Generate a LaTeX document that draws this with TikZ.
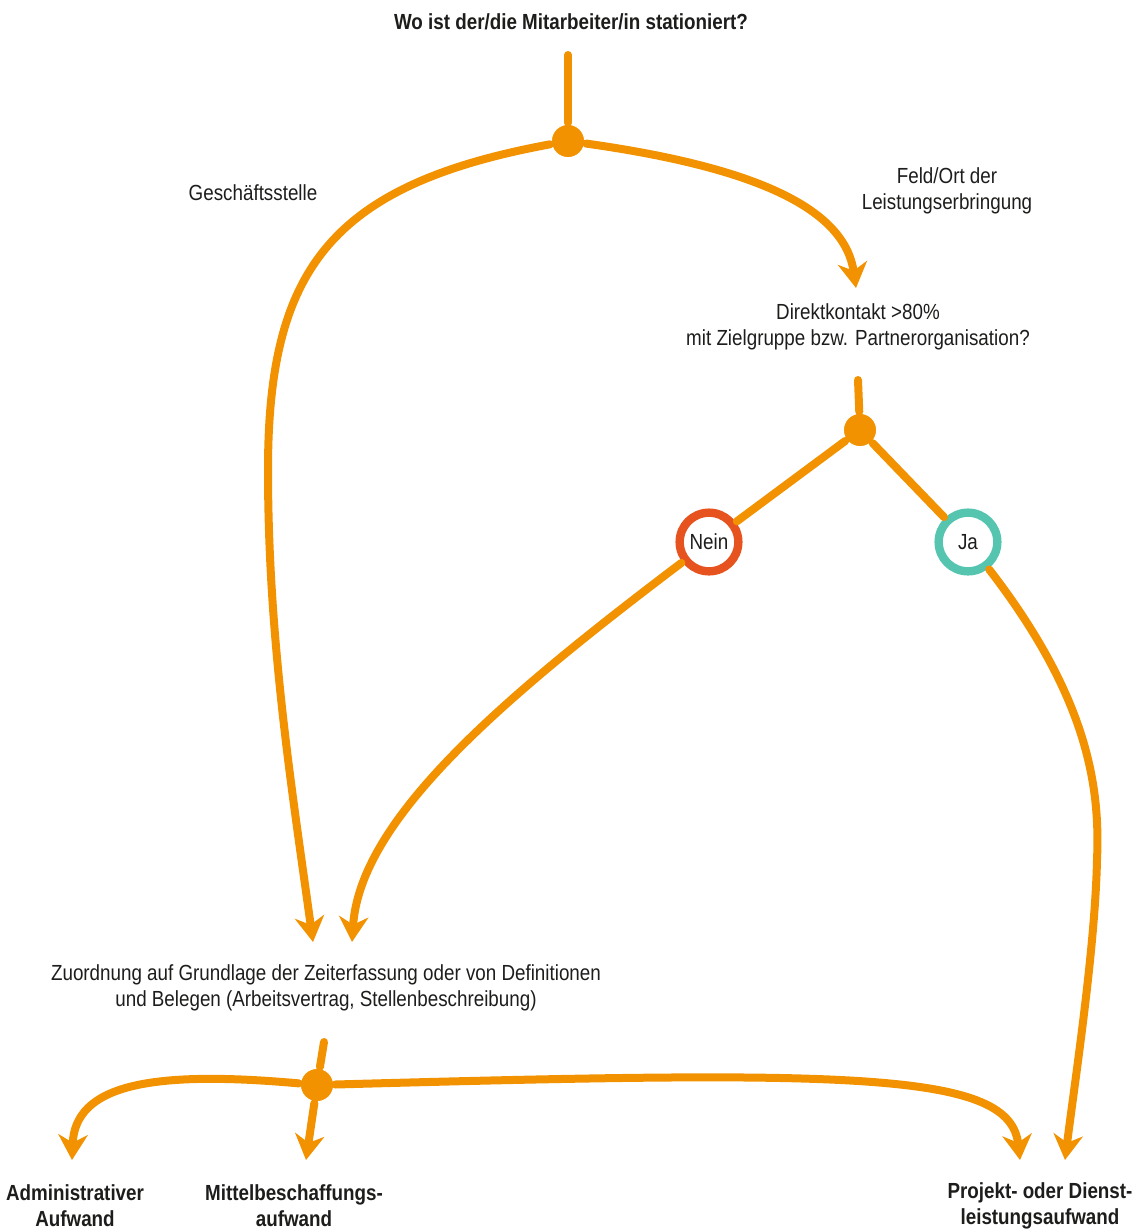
\documentclass[tikz,border=0pt]{standalone}
\usepackage{fontspec}
\setmainfont{Liberation Sans}[FakeStretch=0.86]
\usetikzlibrary{arrows.meta}
\definecolor{flow}{HTML}{F39200}
\definecolor{nein}{HTML}{E6531E}
\definecolor{ja}{HTML}{55C5B0}
\definecolor{ink}{HTML}{1D1D1B}
\tikzset{
  flowline/.style={draw=flow,line width=6pt,line cap=round},
  tip/.style={-{Stealth[length=19pt,width=22pt,inset=6pt]}},
  dot/.style={circle,fill=flow,draw=white,line width=0.8pt,minimum size=25pt,inner sep=0pt,outer sep=1.2pt},
  ring/.style={circle,fill=white,line width=6.3pt,minimum size=44pt,inner sep=0pt,outer sep=4pt},
  txt/.style={text=ink,font=\fontsize{16.4}{19.5}\selectfont,align=center},
  btxt/.style={txt,font=\fontsize{16.4}{19.5}\selectfont\bfseries}
}
\begin{document}
\begin{tikzpicture}[x=0.75pt,y=-0.75pt]
\useasboundingbox (0,0) rectangle (1137,1232);
\node[btxt] (frage) at (571,22) {Wo ist der/die Mitarbeiter/in stationiert?};
\node[txt] (gs) at (253,193) {Geschäftsstelle};
\node[txt] (feld) at (947,191) {Feld/Ort der\\Leistungserbringung};
\node[txt] (kontakt) at (858,327) {Direktkontakt >80\%\\mit Zielgruppe bzw. Partnerorganisation?};
\node[txt] (zuord) at (326,988) {Zuordnung auf Grundlage der Zeiterfassung oder von Definitionen\\und Belegen (Arbeitsvertrag, Stellenbeschreibung)};
\node[btxt] (adm) at (75,1206) {Administrativer\\Aufwand};
\node[btxt] (mittel) at (294,1206) {Mittelbeschaffungs-\\aufwand};
\node[btxt] (proj) at (1040,1206) {Projekt- oder Dienst-\\leistungsaufwand};

\node[dot] (d1) at (568,141) {};
\node[dot] (d2) at (860,430) {};
\node[dot] (d3) at (317,1085) {};
\node[ring,draw=nein,txt] (nein) at (709,542) {Nein};
\node[ring,draw=ja,txt] (ja) at (968,542) {Ja};

\coordinate (s1) at (568,55);
\coordinate (s2) at (858,380);
\coordinate (s3) at (324,1042);
\coordinate (e1) at (313,942);
\coordinate (e2) at (856,288);
\coordinate (e3) at (352,942);
\coordinate (e4) at (1065,1160);
\coordinate (e5) at (72,1160);
\coordinate (e6) at (306,1160);
\coordinate (e7) at (1020,1160);

\draw[flowline] (s1) -- (d1);
\draw[flowline,tip] (d1) .. controls (330,185) and (268,270) .. (268,470) .. controls (268,640) and (292,790) .. (e1);
\draw[flowline,tip] (d1) .. controls (760,168) and (845,210) .. (e2);
\draw[flowline] (s2) -- (d2);
\draw[flowline] (d2) -- (nein);
\draw[flowline] (d2) -- (ja);
\draw[flowline,tip] (nein) .. controls (500,700) and (360,820) .. (e3);
\draw[flowline,tip] (ja) .. controls (1090,700) and (1100,790) .. (1097,860) .. controls (1095,950) and (1075,1080) .. (e4);
\draw[flowline] (s3) -- (d3);
\draw[flowline,tip] (d3) -- (e6);
\draw[flowline,tip] (d3) .. controls (150,1070) and (75,1085) .. (e5);
\draw[flowline,tip] (d3) .. controls (860,1070) and (1010,1072) .. (e7);
\end{tikzpicture}
\end{document}
